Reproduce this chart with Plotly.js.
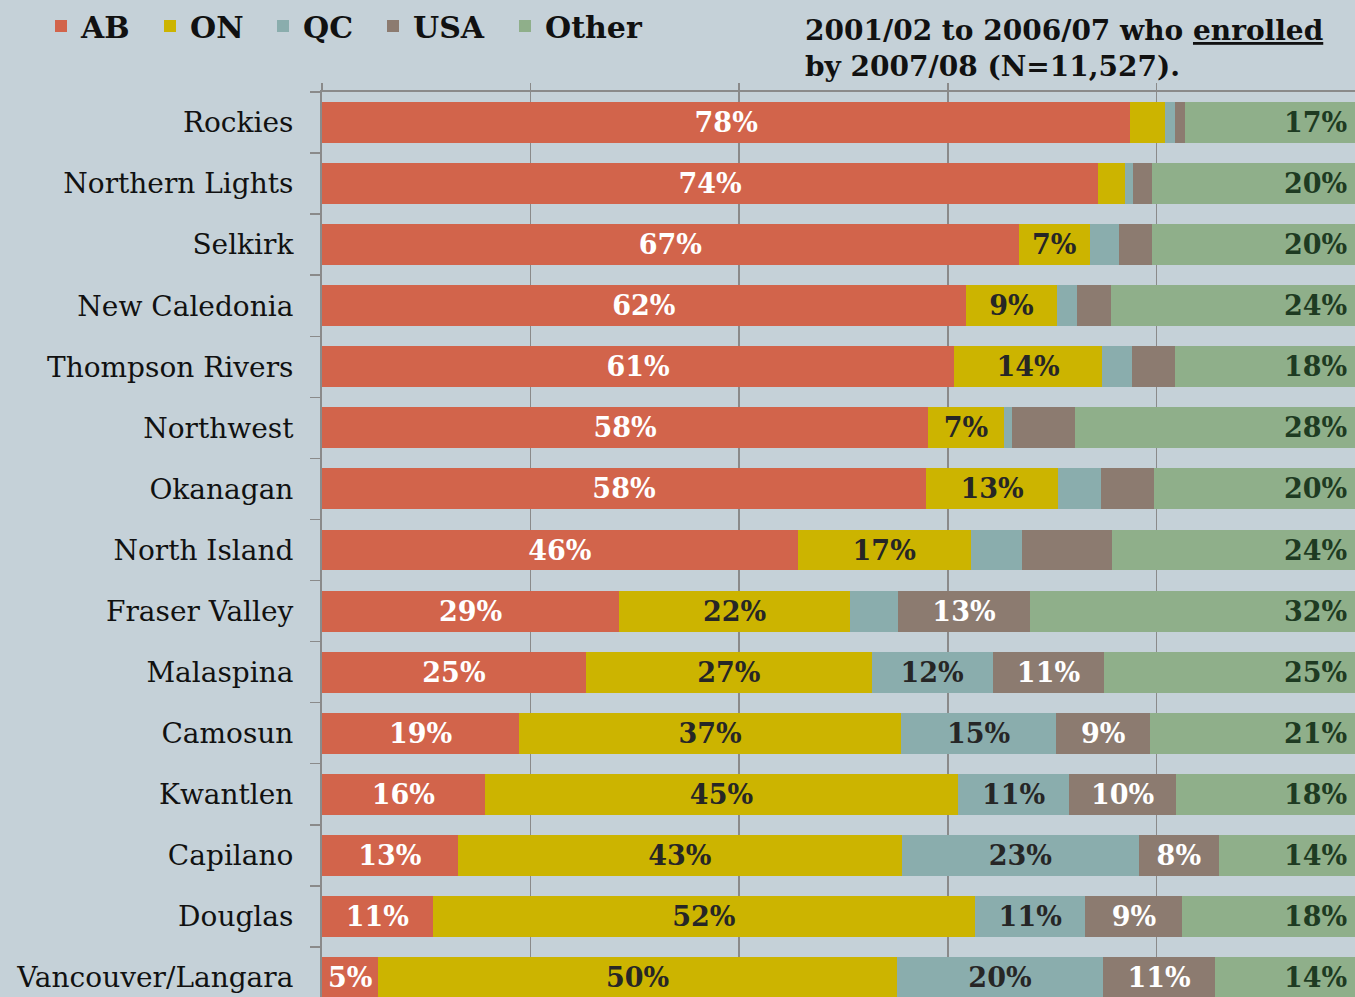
<!DOCTYPE html>
<html>
<head>
<meta charset="utf-8">
<script src="https://cdn.plot.ly/plotly-3.0.1.min.js"></script>
<style>
  html, body { margin: 0; padding: 0; overflow: hidden; background: #c5d1d8; }
  #chart { width: 1376px; height: 1019px; }
</style>
</head>
<body>
<div id="chart"></div>
<script>
// Categories (top to bottom)
const colleges = ["Rockies", "Northern Lights", "Selkirk", "New Caledonia", "Thompson Rivers",
  "Northwest", "Okanagan", "North Island", "Fraser Valley", "Malaspina", "Camosun",
  "Kwantlen", "Capilano", "Douglas", "Vancouver/Langara"];

// Shares (%) by destination
const AB    = [77.5, 74.4, 66.8, 61.7, 60.6, 58.1, 57.9, 45.6, 28.5, 25.3, 18.9, 15.6, 13.0, 10.6, 5.4];
const ON    = [3.3, 2.6, 6.8, 8.8, 14.2, 7.3, 12.7, 16.6, 22.1, 27.4, 36.6, 45.4, 42.6, 52.0, 49.7];
const QC    = [1.0, 0.8, 2.8, 1.9, 2.9, 0.8, 4.1, 4.9, 4.6, 11.6, 14.9, 10.6, 22.7, 10.6, 19.8];
const USA   = [0.9, 1.8, 3.2, 3.2, 4.1, 6.0, 5.1, 8.6, 12.7, 10.7, 9.0, 10.3, 7.7, 9.3, 10.7];
const Other = [17.3, 20.4, 20.4, 24.4, 18.2, 27.8, 20.2, 24.3, 32.1, 25.0, 20.6, 18.1, 14.0, 17.5, 14.4];

const seriesNames = ["AB", "ON", "QC", "USA", "Other"];
// first row (index) from which a data label is shown, per series
const labelFrom = [0, 2, 9, 8, 0];

const colors = ["#d2644b", "#ccb400", "#8aadad", "#8c7b70", "#8faf8a"];
const textColors = ["#ffffff", "#262626", "#262626", "#ffffff", "#1e3b22"];
const allSeries = [AB, ON, QC, USA, Other];
const legendIds = ["legend", "legend2", "legend3", "legend4", "legend5"];
const legendX = [41, 150, 263, 373, 505];

const labelFont = { family: "DejaVu Serif", size: 27, weight: "bold" };

const traces = allSeries.map((vals, s) => ({
  type: "bar",
  orientation: "h",
  name: seriesNames[s],
  legend: legendIds[s],
  y: colleges,
  x: vals,
  text: vals.map((v, i) => (s !== 4 && i >= labelFrom[s]) ? Math.round(v) + "%" : ""),
  textposition: "inside",
  insidetextanchor: "middle",
  textfont: Object.assign({ color: textColors[s] }, labelFont),
  marker: { color: colors[s], line: { width: 0 } },
  hoverinfo: "name+x+y"
}));

// "Other" labels: right-aligned at the inside end of each stacked bar (axis end = 100%)
const otherLabels = colleges.map((c, i) => ({
  x: 1, y: c, xref: "x domain", yref: "y",
  text: Math.round(Other[i]) + "%",
  showarrow: false, xanchor: "right", xshift: -16,
  font: Object.assign({ color: textColors[4] }, labelFont)
}));

const W = 1376, H = 1019;
const legendBase = {
  orientation: "h",
  xref: "container", yref: "container",
  xanchor: "left",
  y: 1 - 26 / H, yanchor: "middle",
  font: { family: "DejaVu Serif", size: 30, color: "#111111", weight: "bold" },
  bgcolor: "rgba(0,0,0,0)"
};

const layout = {
  width: W, height: H,
  barmode: "stack",
  bargap: 0.33,
  constraintext: "none",
  paper_bgcolor: "#c5d1d8",
  plot_bgcolor: "#c5d1d8",
  margin: { l: 322, r: 11, t: 92, b: 10.5 },
  font: { family: "DejaVu Serif", color: "#111111" },
  title: {
    text: "2001/02 to 2006/07 who <u>enrolled</u><br>by 2007/08 (N=11,527).",
    font: { family: "DejaVu Serif", size: 28, color: "#111111", weight: "bold" },
    xref: "container", yref: "container",
    x: 805 / W, xanchor: "left",
    y: 1 - 40 / H, yanchor: "top"
  },
  showlegend: true,
  annotations: otherLabels,
  xaxis: {
    side: "top",
    range: [0, 100],
    dtick: 20,
    showticklabels: false,
    ticks: "outside",
    ticklen: 7,
    tickwidth: 1.5,
    tickcolor: "#8a8a8a",
    showline: true,
    linecolor: "#8a8a8a",
    linewidth: 2,
    showgrid: true,
    gridcolor: "#8a8a8a",
    gridwidth: 1.75,
    zeroline: false,
    fixedrange: true
  },
  yaxis: {
    type: "category",
    categoryorder: "array",
    categoryarray: colleges,
    autorange: "reversed",
    ticks: "outside",
    tickson: "boundaries",
    ticklen: 10,
    tickwidth: 1.5,
    tickcolor: "#8a8a8a",
    ticklabelstandoff: 21,
    showline: true,
    linecolor: "#8a8a8a",
    linewidth: 2,
    showgrid: false,
    tickfont: { family: "DejaVu Serif", size: 28, color: "#111111" },
    fixedrange: true
  }
};
legendIds.forEach((id, s) => {
  layout[id] = Object.assign({}, legendBase, { x: legendX[s] / W });
});

Plotly.newPlot("chart", traces, layout, { displayModeBar: false, staticPlot: true });
</script>
</body>
</html>
